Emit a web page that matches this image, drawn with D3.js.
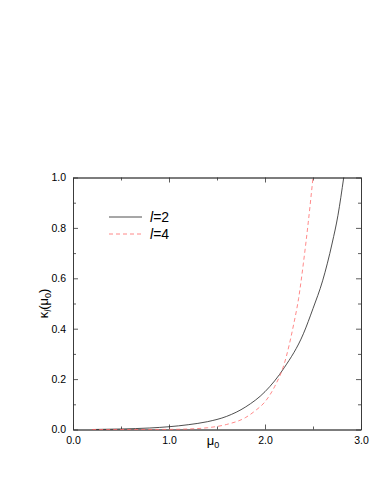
<!DOCTYPE html>
<html>
<head>
<meta charset="utf-8">
<script src="https://cdn.jsdelivr.net/npm/d3@7"></script>
<style>
  body { margin: 0; background: #fff; }
  svg { display: block; }
  .tick text { font-family: "Liberation Sans", Arial, sans-serif; font-size: 10.5px; fill: #000; }
  .lbl { font-family: "Liberation Sans", Arial, sans-serif; fill: #000; }
</style>
</head>
<body>
<div id="chart"></div>
<script>
// l = 2 curve
var mu2 = [0.2, 0.5, 0.8, 1.0, 1.2, 1.4, 1.6, 1.8, 2.0, 2.2, 2.4, 2.5, 2.6, 2.7, 2.76, 2.82];
var kappa2 = [0, 0.002, 0.006, 0.011, 0.019, 0.031, 0.052, 0.09, 0.15, 0.245, 0.38, 0.48, 0.59, 0.74, 0.85, 1.0];
// l = 4 curve
var mu4 = [0.2, 0.6, 1.0, 1.2, 1.4, 1.6, 1.8, 1.9, 2.0, 2.1, 2.2, 2.3, 2.35, 2.4, 2.45, 2.5];
var kappa4 = [0, 0, 0.0005, 0.002, 0.007, 0.02, 0.048, 0.075, 0.11, 0.17, 0.26, 0.42, 0.52, 0.66, 0.82, 1.0];

var xTicks = [0, 1, 2, 3];
var xMinor = [0.5, 1.5, 2.5];
var yTicks = [0, 0.2, 0.4, 0.6, 0.8, 1.0];
var yMinor = [0.1, 0.3, 0.5, 0.7, 0.9];

var W = 383, H = 496;
var margin = { top: 177.5, right: 22, bottom: 66.5, left: 73 };

var x = d3.scaleLinear().domain([0, 3]).range([margin.left, W - margin.right]);
var y = d3.scaleLinear().domain([0, 1]).range([H - margin.bottom, margin.top]);

var svg = d3.select("#chart").append("svg")
  .attr("width", W)
  .attr("height", H);

var fmt = d3.format(".1f");
var axisColor = "#333";

function styleAxis(g) {
  g.select(".domain").attr("stroke", axisColor).attr("stroke-width", 0.8);
  g.selectAll(".tick line").attr("stroke", axisColor).attr("stroke-width", 0.8);
}

// bottom
svg.append("g")
  .attr("transform", "translate(0," + y(0) + ")")
  .call(d3.axisBottom(x).tickValues(xTicks).tickFormat(fmt).tickSizeInner(-5).tickSizeOuter(0).tickPadding(7))
  .call(styleAxis);
svg.append("g")
  .attr("transform", "translate(0," + y(0) + ")")
  .call(d3.axisBottom(x).tickValues(xMinor).tickFormat("").tickSizeInner(-3).tickSizeOuter(0))
  .call(styleAxis);
// top
svg.append("g")
  .attr("transform", "translate(0," + y(1) + ")")
  .call(d3.axisTop(x).tickValues(xTicks).tickFormat("").tickSizeInner(-5).tickSizeOuter(0))
  .call(styleAxis);
svg.append("g")
  .attr("transform", "translate(0," + y(1) + ")")
  .call(d3.axisTop(x).tickValues(xMinor).tickFormat("").tickSizeInner(-3).tickSizeOuter(0))
  .call(styleAxis);
// left
svg.append("g")
  .attr("transform", "translate(" + x(0) + ",0)")
  .call(d3.axisLeft(y).tickValues(yTicks).tickFormat(fmt).tickSizeInner(-5).tickSizeOuter(0).tickPadding(7))
  .call(styleAxis);
svg.append("g")
  .attr("transform", "translate(" + x(0) + ",0)")
  .call(d3.axisLeft(y).tickValues(yMinor).tickFormat("").tickSizeInner(-3).tickSizeOuter(0))
  .call(styleAxis);
// right
svg.append("g")
  .attr("transform", "translate(" + x(3) + ",0)")
  .call(d3.axisRight(y).tickValues(yTicks).tickFormat("").tickSizeInner(-5).tickSizeOuter(0))
  .call(styleAxis);
svg.append("g")
  .attr("transform", "translate(" + x(3) + ",0)")
  .call(d3.axisRight(y).tickValues(yMinor).tickFormat("").tickSizeInner(-3).tickSizeOuter(0))
  .call(styleAxis);

var line = d3.line()
  .x(function(d) { return x(d[0]); })
  .y(function(d) { return y(d[1]); })
  .curve(d3.curveMonotoneX);

svg.append("path")
  .datum(d3.zip(mu2, kappa2))
  .attr("fill", "none")
  .attr("stroke", "#222")
  .attr("stroke-width", 0.8)
  .attr("d", line);

svg.append("path")
  .datum(d3.zip(mu4, kappa4))
  .attr("fill", "none")
  .attr("stroke", "#ff6b6b")
  .attr("stroke-width", 0.8)
  .attr("stroke-dasharray", "4,3")
  .attr("d", line);

// legend
var legend = [
  { n: "2", color: "#222", dash: null },
  { n: "4", color: "#ff6b6b", dash: "4,3" }
];
legend.forEach(function(d, i) {
  var ly = 217 + i * 17;
  svg.append("line")
    .attr("x1", 109).attr("x2", 142)
    .attr("y1", ly).attr("y2", ly)
    .attr("stroke", d.color)
    .attr("stroke-width", 0.8)
    .attr("stroke-dasharray", d.dash);
  var t = svg.append("text")
    .attr("class", "lbl")
    .attr("x", 150)
    .attr("y", ly + 5)
    .style("font-size", "14px");
  t.append("tspan").style("font-style", "italic").text("l");
  t.append("tspan").text("=" + d.n);
});

// x label
var xl = svg.append("text")
  .attr("class", "lbl")
  .attr("x", x(1.5) - 4)
  .attr("y", 445)
  .attr("text-anchor", "middle")
  .style("font-size", "13px");
xl.append("tspan").text("μ");
xl.append("tspan").attr("dy", 3).style("font-size", "9px").text("0");

// y label
var yl = svg.append("text")
  .attr("class", "lbl")
  .attr("transform", "translate(48," + y(0.5) + ") rotate(-90)")
  .attr("text-anchor", "middle")
  .style("font-size", "13px");
yl.append("tspan").text("κ");
yl.append("tspan").attr("dy", 3).style("font-size", "9px").style("font-style", "italic").text("l");
yl.append("tspan").attr("dy", -3).text("(μ");
yl.append("tspan").attr("dy", 3).style("font-size", "9px").text("0");
yl.append("tspan").attr("dy", -3).text(")");
</script>
</body>
</html>
